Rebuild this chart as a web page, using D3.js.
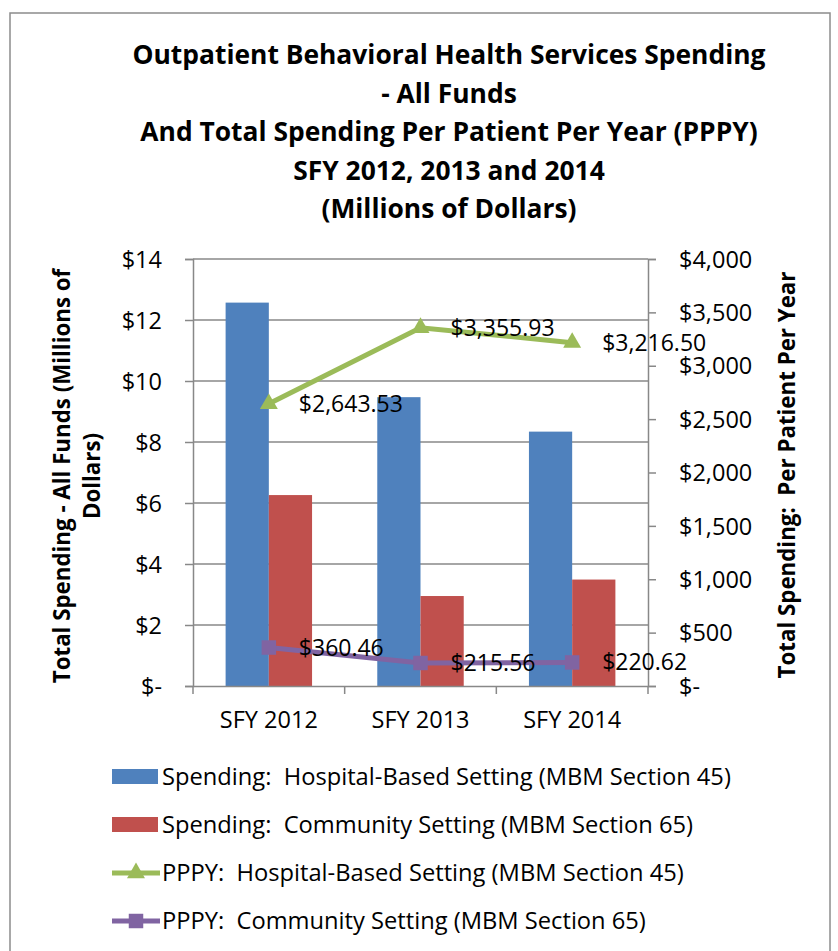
<!DOCTYPE html>
<html>
<head>
<meta charset="utf-8">
<script src="https://cdn.jsdelivr.net/npm/d3@7"></script>
<style>
  body { margin: 0; background: #fff; }
  svg text { font-family: "Open Sans", sans-serif; fill: #000; white-space: pre; }
</style>
</head>
<body>
<div id="chart"></div>
<script>
// chart values
var years = ['SFY 2012', 'SFY 2013', 'SFY 2014'];
var spendHospital = [12.57, 9.47, 8.34];
var spendCommunity = [6.26, 2.95, 3.49];
var pppyHospital = [2643.53, 3355.93, 3216.50];
var pppyCommunity = [360.46, 215.56, 220.62];
var leftTicks = [0, 2, 4, 6, 8, 10, 12, 14];
var rightTicks = [0, 500, 1000, 1500, 2000, 2500, 3000, 3500, 4000];
var titleLines = [
    'Outpatient Behavioral Health Services Spending',
    '- All Funds',
    'And Total Spending Per Patient Per Year (PPPY)',
    'SFY 2012, 2013 and 2014',
    '(Millions of Dollars)'
];
var legendNames = [
    'Spending:  Hospital-Based Setting (MBM Section 45)',
    'Spending:  Community Setting (MBM Section 65)',
    'PPPY:  Hospital-Based Setting (MBM Section 45)',
    'PPPY:  Community Setting (MBM Section 65)'
];

var colors = { blue: '#4F81BD', red: '#C0504D', green: '#9BBB59', purple: '#8064A2', grid: '#888888' };

var W = 838, H = 951;
var plot = { left: 193, right: 648, top: 259, bottom: 686 };

var svg = d3.select('#chart').append('svg')
    .attr('width', W)
    .attr('height', H);

// outer frame
svg.append('rect')
    .attr('x', 10).attr('y', 13)
    .attr('width', 820).attr('height', 960)
    .style('fill', '#fff')
    .style('stroke', '#8c8c8c')
    .style('stroke-width', 1.5);

// title
svg.append('g').selectAll('text')
    .data(titleLines)
    .enter()
    .append('text')
    .attr('x', 449)
    .attr('y', function(d, i) { return 64 + i * 38.5; })
    .attr('text-anchor', 'middle')
    .style('font-size', '26.4px')
    .style('font-weight', 'bold')
    .text(function(d) { return d; });

var x0 = d3.scaleBand()
    .domain(years)
    .range([plot.left, plot.right]);

var x1 = d3.scaleBand()
    .domain(['hospital', 'community'])
    .range([0, x0.bandwidth() * 0.57])
    .padding(0);

var yLeft = d3.scaleLinear()
    .domain([0, 14])
    .range([plot.bottom, plot.top]);

var yRight = d3.scaleLinear()
    .domain([0, 4000])
    .range([plot.bottom, plot.top]);

// gridlines
svg.append('g')
    .selectAll('line')
    .data(leftTicks.slice(1))
    .enter()
    .append('line')
    .attr('x1', plot.left).attr('x2', plot.right)
    .attr('y1', function(d) { return yLeft(d); })
    .attr('y2', function(d) { return yLeft(d); })
    .style('stroke', colors.grid)
    .style('stroke-width', 1.5);

// bars
var groupOffset = (x0.bandwidth() - x0.bandwidth() * 0.57) / 2;
var barData = [];
years.forEach(function(y, i) {
    barData.push({ year: y, key: 'hospital', value: spendHospital[i], color: colors.blue });
    barData.push({ year: y, key: 'community', value: spendCommunity[i], color: colors.red });
});

svg.append('g')
    .selectAll('rect')
    .data(barData)
    .enter()
    .append('rect')
    .attr('x', function(d) { return x0(d.year) + groupOffset + x1(d.key); })
    .attr('width', x1.bandwidth())
    .attr('y', function(d) { return yLeft(d.value); })
    .attr('height', function(d) { return plot.bottom - yLeft(d.value); })
    .style('fill', function(d) { return d.color; });

// axes
var leftAxis = d3.axisLeft(yLeft)
    .tickValues(leftTicks)
    .tickSize(8)
    .tickPadding(23)
    .tickFormat(function(d) { return d === 0 ? '$-' : '$' + d; });

var gLeft = svg.append('g')
    .attr('transform', 'translate(' + plot.left + ',0)')
    .call(leftAxis);

var rightAxis = d3.axisRight(yRight)
    .tickValues(rightTicks)
    .tickSize(8)
    .tickPadding(23)
    .tickFormat(function(d) { return d === 0 ? '$-' : '$' + d3.format(',')(d); });

var gRight = svg.append('g')
    .attr('transform', 'translate(' + plot.right + ',0)')
    .call(rightAxis);

var bottomAxis = d3.axisBottom(x0)
    .tickSize(0)
    .tickPadding(25);

var gBottom = svg.append('g')
    .attr('transform', 'translate(0,' + plot.bottom + ')')
    .call(bottomAxis);

// category boundary ticks
gBottom.selectAll('.bound')
    .data([0, 1, 2, 3])
    .enter()
    .append('line')
    .attr('class', 'bound')
    .attr('x1', function(d) { return plot.left + d * x0.step(); })
    .attr('x2', function(d) { return plot.left + d * x0.step(); })
    .attr('y1', 0).attr('y2', 8);

[gLeft, gRight, gBottom].forEach(function(g) {
    g.selectAll('path').style('stroke', colors.grid).style('stroke-width', 1.5);
    g.selectAll('line').style('stroke', colors.grid).style('stroke-width', 1.5);
    g.selectAll('text')
        .style('font-size', '23.5px')
        .style('font-family', '"Open Sans", sans-serif')
        .attr('fill', '#000');
});
gLeft.selectAll('text').attr('dy', '0.35em');
gRight.selectAll('text').attr('dy', '0.35em');

// axis titles
var leftTitle = svg.append('text')
    .attr('transform', 'translate(70,476) rotate(-90)')
    .attr('text-anchor', 'middle')
    .style('font-size', '22.3px')
    .style('font-weight', 'bold');
leftTitle.append('tspan').attr('x', 0).attr('dy', 0).text('Total Spending - All Funds (Millions of');
leftTitle.append('tspan').attr('x', 0).attr('dy', 30).text('Dollars)');

svg.append('text')
    .attr('transform', 'translate(795,475) rotate(-90)')
    .attr('text-anchor', 'middle')
    .style('font-size', '22.3px')
    .style('font-weight', 'bold')
    .text('Total Spending:  Per Patient Per Year');

// lines
var cx = function(i) { return x0(years[i]) + x0.bandwidth() / 2; };
var line = d3.line()
    .x(function(d, i) { return cx(i); })
    .y(function(d) { return yRight(d); });

svg.append('path')
    .datum(pppyHospital)
    .attr('d', line)
    .style('fill', 'none')
    .style('stroke', colors.green)
    .style('stroke-width', 5);

svg.append('path')
    .datum(pppyCommunity)
    .attr('d', line)
    .style('fill', 'none')
    .style('stroke', colors.purple)
    .style('stroke-width', 5);

var tri = d3.symbol().type(d3.symbolTriangle).size(140);
var sq = d3.symbol().type(d3.symbolSquare).size(210);

svg.append('g')
    .selectAll('path')
    .data(pppyHospital)
    .enter()
    .append('path')
    .attr('d', tri)
    .attr('transform', function(d, i) { return 'translate(' + cx(i) + ',' + yRight(d) + ')'; })
    .style('fill', colors.green);

svg.append('g')
    .selectAll('path')
    .data(pppyCommunity)
    .enter()
    .append('path')
    .attr('d', sq)
    .attr('transform', function(d, i) { return 'translate(' + cx(i) + ',' + yRight(d) + ')'; })
    .style('fill', colors.purple);

// data labels
var money = d3.format(',.2f');
[pppyHospital, pppyCommunity].forEach(function(series) {
    svg.append('g')
        .selectAll('text')
        .data(series)
        .enter()
        .append('text')
        .attr('x', function(d, i) { return cx(i) + 30; })
        .attr('y', function(d) { return yRight(d); })
        .attr('dy', '0.35em')
        .style('font-size', '23px')
        .text(function(d) { return '$' + money(d); });
});

// legend
var legend = svg.append('g')
    .selectAll('g')
    .data(legendNames)
    .enter()
    .append('g')
    .attr('transform', function(d, i) { return 'translate(112,' + (777 + i * 48) + ')'; });

legend.each(function(d, i) {
    var g = d3.select(this);
    if (i < 2) {
        g.append('rect')
            .attr('x', 0).attr('y', -8)
            .attr('width', 46).attr('height', 15)
            .style('fill', i === 0 ? colors.blue : colors.red);
    } else {
        var c = i === 2 ? colors.green : colors.purple;
        g.append('line')
            .attr('x1', 0).attr('x2', 48)
            .attr('y1', 0).attr('y2', 0)
            .style('stroke', c)
            .style('stroke-width', 5);
        g.append('path')
            .attr('d', i === 2 ? tri : sq)
            .attr('transform', 'translate(24,0)')
            .style('fill', c);
    }
    g.append('text')
        .attr('x', 50)
        .attr('y', 0)
        .attr('dy', '0.35em')
        .style('font-size', '23.7px')
        .text(d);
});
</script>
</body>
</html>
